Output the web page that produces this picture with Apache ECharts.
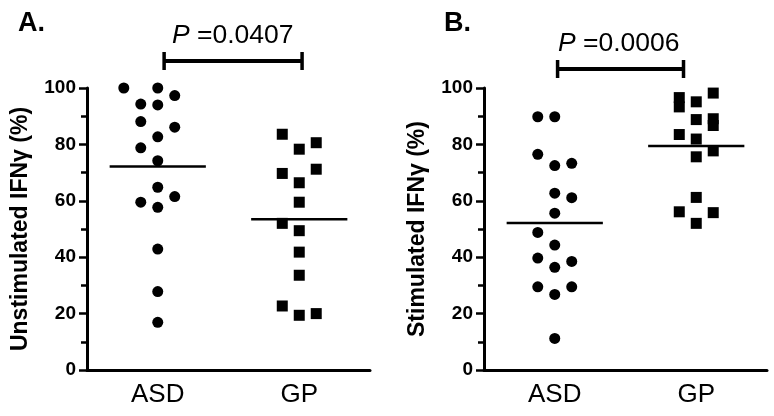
<!DOCTYPE html>
<html>
<head>
<meta charset="utf-8">
<script src="https://cdn.jsdelivr.net/npm/echarts@6/dist/echarts.min.js"></script>
<style>
  html, body { margin: 0; padding: 0; background: #fff; }
  #chart { width: 774px; height: 416px; }
</style>
</head>
<body>
<div id="chart"></div>
<script>
  // groups on the x axis
  const categories = ['ASD', 'GP'];

  // A. unstimulated IFN-gamma (%), one value per subject, with its jitter lane
  const asdUnstim = [100, 100, 97.3, 94.3, 94, 88.1, 86.1, 82.7, 78.8, 74.2, 64.8, 61.5, 59.5, 57.7, 42.9, 27.8, 16.9];
  const asdUnstimLane = [-2, 0, 1, -1, 0, -1, 1, 0, -1, 0, 0, 1, -1, 0, 0, 0, 0];
  const gpUnstim = [83.6, 80.6, 78.3, 71.2, 69.7, 66.4, 59.5, 52, 49.4, 41.8, 33.6, 22.7, 19.4, 20];
  const gpUnstimLane = [-1, 1, 0, 1, -1, 0, 0, -1, 0, 0, 0, -1, 0, 1];

  // B. stimulated IFN-gamma (%)
  const asdStim = [89.8, 89.8, 76.5, 72.5, 73.3, 62.7, 61.1, 55.6, 48.8, 44.3, 39.7, 38.5, 36.4, 29.5, 29.5, 26.8, 11.2];
  const asdStimLane = [-1, 0, -1, 0, 1, 0, 1, 0, -1, 0, -1, 1, 0, -1, 1, 0, 0];
  const gpStim = [96.6, 93.3, 95.1, 98.2, 88.8, 89.1, 86.7, 83.5, 81.9, 77.7, 75.6, 61.2, 56.1, 55.8, 52];
  const gpStimLane = [-1, -1, 0, 1, 0, 1, 1, -1, 0, 1, 0, 0, -1, 1, 0];

  const pValues = ['0.0407', '0.0006'];
  const yNames = ['Unstimulated IFN\u03b3 (%)', 'Stimulated IFN\u03b3 (%)'];
  const panelTitles = ['A.', 'B.'];

  const FONT = '"Liberation Sans", Arial, Helvetica, sans-serif';
  const LANE = 0.12;     // jitter step in x units
  const HALF = 0.34;     // half width of the mean line

  function mean(arr) {
    return arr.reduce((s, v) => s + v, 0) / arr.length;
  }

  function points(vals, lanes, catIdx) {
    return vals.map((v, i) => [catIdx + 0.5 + lanes[i] * LANE, v]);
  }

  function meanLine(vals, catIdx) {
    const m = mean(vals);
    return [[catIdx + 0.5 - HALF, m], [catIdx + 0.5 + HALF, m]];
  }

  const grids = [
    {left: 87, top: 88, width: 283, height: 282},
    {left: 484, top: 88, width: 283, height: 282}
  ];

  const xAxes = [];
  const yAxes = [];
  grids.forEach((g, i) => {
    xAxes.push({
      type: 'category', gridIndex: i, data: categories,
      boundaryGap: true,
      axisLine: {lineStyle: {color: '#000', width: 3}},
      axisTick: {alignWithLabel: true, length: 8, lineStyle: {color: '#000', width: 2.5}},
      axisLabel: {color: '#000', fontFamily: FONT, fontSize: 26, margin: 12}
    });
    xAxes.push({type: 'value', gridIndex: i, min: 0, max: 2, show: false});
    yAxes.push({
      type: 'value', gridIndex: i, min: 0, max: 100, interval: 20,
      name: yNames[i], nameLocation: 'middle', nameGap: 55,
      nameTextStyle: {color: '#000', fontFamily: FONT, fontSize: 23, fontWeight: 'bold'},
      axisLine: {show: true, lineStyle: {color: '#000', width: 3}},
      axisTick: {show: true, length: 8, lineStyle: {color: '#000', width: 2.5}},
      minorTick: {show: true, splitNumber: 2, length: 6, lineStyle: {color: '#000', width: 2.5}},
      splitLine: {show: false},
      axisLabel: {color: '#000', fontFamily: FONT, fontSize: 19, fontWeight: 'bold', margin: 11}
    });
  });

  function dots(vals, lanes, catIdx, panel, symbol) {
    return {
      type: 'scatter', xAxisIndex: panel * 2 + 1, yAxisIndex: panel,
      symbol: symbol, symbolSize: 11,
      itemStyle: {color: '#000', opacity: 1},
      data: points(vals, lanes, catIdx)
    };
  }

  function bar(vals, catIdx, panel) {
    return {
      type: 'line', xAxisIndex: panel * 2 + 1, yAxisIndex: panel,
      symbol: 'none', lineStyle: {color: '#000', width: 2.5},
      data: meanLine(vals, catIdx)
    };
  }

  const series = [
    dots(asdUnstim, asdUnstimLane, 0, 0, 'circle'),
    dots(gpUnstim, gpUnstimLane, 1, 0, 'rect'),
    bar(asdUnstim, 0, 0),
    bar(gpUnstim, 1, 0),
    dots(asdStim, asdStimLane, 0, 1, 'circle'),
    dots(gpStim, gpStimLane, 1, 1, 'rect'),
    bar(asdStim, 0, 1),
    bar(gpStim, 1, 1)
  ];

  // annotation layout: title, p-value text and bracket for each panel
  const notes = [
    {titleX: 18, titleY: 24, pX: 172, pY: 36, brY: 61, brX: [0.545, 1.52]},
    {titleX: 444, titleY: 24, pX: 558, pY: 44, brY: 69, brX: [0.52, 1.41]}
  ];

  const chart = echarts.init(document.getElementById('chart'));
  chart.setOption({
    animation: false,
    grid: grids,
    xAxis: xAxes,
    yAxis: yAxes,
    series: series
  });

  const graphic = [];
  notes.forEach((n, i) => {
    const x0 = chart.convertToPixel({xAxisIndex: i * 2 + 1}, n.brX[0]);
    const x1 = chart.convertToPixel({xAxisIndex: i * 2 + 1}, n.brX[1]);
    graphic.push({
      type: 'text', x: n.titleX, y: n.titleY,
      style: {text: panelTitles[i], verticalAlign: 'middle', fill: '#000', font: 'bold 27px ' + FONT}
    });
    graphic.push({
      type: 'text', x: n.pX, y: n.pY,
      style: {
        text: '{i|P} =' + pValues[i],
        verticalAlign: 'middle',
        fill: '#000', font: '26.5px ' + FONT,
        rich: {i: {fontStyle: 'italic', fontSize: 26.5, fontFamily: FONT}}
      }
    });
    graphic.push({
      type: 'polyline',
      shape: {points: [[x0, n.brY], [x1, n.brY]]},
      style: {stroke: '#000', lineWidth: 4}
    });
    [x0, x1].forEach(x => graphic.push({
      type: 'polyline',
      shape: {points: [[x, n.brY - 9], [x, n.brY + 9]]},
      style: {stroke: '#000', lineWidth: 3.5}
    }));
  });
  chart.setOption({graphic: graphic});
</script>
</body>
</html>
